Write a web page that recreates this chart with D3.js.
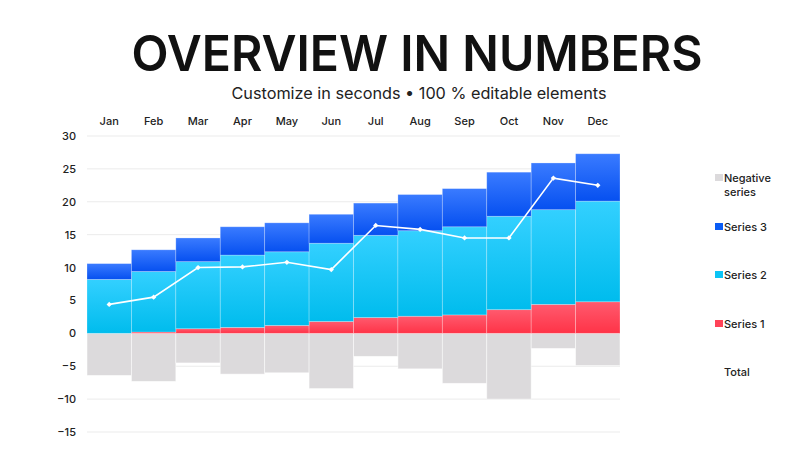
<!DOCTYPE html>
<html>
<head>
<meta charset="utf-8">
<script src="https://cdn.jsdelivr.net/npm/d3@7"></script>
<style>
  body { margin: 0; background: #fff; }
  text { font-family: Inter, "Noto Sans", sans-serif; }
</style>
</head>
<body>
<div id="chart"></div>
<script>
// data
const months   = ["Jan","Feb","Mar","Apr","May","Jun","Jul","Aug","Sep","Oct","Nov","Dec"];
const series1  = [0.0, 0.2, 0.7, 0.9, 1.2, 1.8, 2.4, 2.6, 2.8, 3.6, 4.4, 4.8];
const series2  = [8.2, 9.2, 10.2, 11.0, 11.2, 11.9, 12.5, 13.0, 13.4, 14.2, 14.4, 15.3];
const series3  = [2.4, 3.3, 3.6, 4.3, 4.4, 4.4, 4.9, 5.5, 5.8, 6.7, 7.1, 7.2];
const negative = [-6.4, -7.3, -4.5, -6.2, -6.0, -8.4, -3.5, -5.4, -7.6, -10.0, -2.3, -4.9];
const total    = [4.4, 5.5, 10.0, 10.1, 10.8, 9.7, 16.4, 15.8, 14.5, 14.5, 23.6, 22.5];
const yTicks   = [30, 25, 20, 15, 10, 5, 0, -5, -10, -15];
const legendItems = ["Negative series", "Series 3", "Series 2", "Series 1", "Total"];

const W = 800, H = 450;
const margin = { top: 136, right: 180, bottom: 18, left: 87 };
const width  = W - margin.left - margin.right;
const height = H - margin.top - margin.bottom;

const svg = d3.select("#chart").append("svg")
  .attr("width", W).attr("height", H);

// Title + subtitle
svg.append("text")
  .attr("x", 417).attr("y", 71)
  .attr("text-anchor", "middle")
  .attr("font-size", 50).attr("font-weight", 600)
  .attr("fill", "#111")
  .attr("textLength", 571).attr("lengthAdjust", "spacingAndGlyphs")
  .text("OVERVIEW IN NUMBERS");

svg.append("text")
  .attr("x", 419).attr("y", 99)
  .attr("text-anchor", "middle")
  .attr("font-size", 16).attr("font-weight", 400).attr("fill", "#222")
  .attr("textLength", 375).attr("lengthAdjust", "spacingAndGlyphs")
  .text("Customize in seconds \u2022 100 % editable elements");

// gradients
const defs = svg.append("defs");
function grad(id, top, bottom) {
  const g = defs.append("linearGradient").attr("id", id)
    .attr("x1", 0).attr("y1", 0).attr("x2", 0).attr("y2", 1);
  g.append("stop").attr("offset", "0%").attr("stop-color", top);
  g.append("stop").attr("offset", "100%").attr("stop-color", bottom);
}
grad("g1", "#ff5a6e", "#ff3347");
grad("g2", "#33d0ff", "#00bced");
grad("g3", "#3a7bff", "#0650f0");

const g = svg.append("g").attr("transform", `translate(${margin.left},${margin.top})`);

const x = d3.scaleBand().domain(months).range([0, width]).padding(0);
const y = d3.scaleLinear().domain([-15, 30]).range([height, 0]);

// gridlines
g.append("g").selectAll("line").data(yTicks).join("line")
  .attr("x1", 0).attr("x2", width)
  .attr("y1", d => y(d)).attr("y2", d => y(d))
  .attr("stroke", "#ebebeb").attr("stroke-width", 1);

// y axis labels
const yAxis = d3.axisLeft(y).tickValues(yTicks).tickSize(0).tickPadding(11);
g.append("g").call(yAxis)
  .call(s => s.select(".domain").remove())
  .selectAll("text")
  .attr("font-size", 11).attr("font-weight", 500).attr("fill", "#222");

// month labels on top
const xAxis = d3.axisTop(x).tickSize(0).tickPadding(11);
g.append("g").call(xAxis)
  .call(s => s.select(".domain").remove())
  .selectAll("text")
  .attr("font-size", 11).attr("font-weight", 500).attr("fill", "#222");

// stacked data
const rows = months.map((m, i) => ({ month: m, s1: series1[i], s2: series2[i], s3: series3[i] }));
const stack = d3.stack().keys(["s1", "s2", "s3"])(rows);
const fills = { s1: "url(#g1)", s2: "url(#g2)", s3: "url(#g3)" };

// negative bars
g.append("g").selectAll("rect").data(negative).join("rect")
  .attr("x", (d, i) => x(months[i]))
  .attr("y", y(0))
  .attr("width", x.bandwidth())
  .attr("height", d => y(d) - y(0))
  .attr("fill", "#dcdadc")
  .attr("stroke", "rgba(255,255,255,0.6)").attr("stroke-width", 0.8);

stack.forEach(layer => {
  g.append("g").selectAll("rect").data(layer).join("rect")
    .attr("x", d => x(d.data.month))
    .attr("y", d => y(d[1]))
    .attr("width", x.bandwidth())
    .attr("height", d => y(d[0]) - y(d[1]))
    .attr("fill", fills[layer.key])
    .attr("stroke", "rgba(255,255,255,0.3)").attr("stroke-width", 0.8);
});

// total line
const line = d3.line()
  .x((d, i) => x(months[i]) + x.bandwidth() / 2)
  .y(d => y(d));
g.append("path").datum(total)
  .attr("d", line)
  .attr("fill", "none").attr("stroke", "#fff").attr("stroke-width", 1.6);
g.append("g").selectAll("path").data(total).join("path")
  .attr("transform", (d, i) => `translate(${x(months[i]) + x.bandwidth() / 2},${y(d)}) rotate(45)`)
  .attr("d", d3.symbol().type(d3.symbolSquare).size(14))
  .attr("fill", "#fff");

// legend
const legColors = ["#dcdadc", "#0a5cf5", "#0cc4f5", "#ff4358", null];
const legY = [178, 227, 275, 324, 372];
const leg = svg.append("g");
legendItems.forEach((name, i) => {
  if (legColors[i]) {
    leg.append("rect")
      .attr("x", 715).attr("y", legY[i] - 4)
      .attr("width", 8).attr("height", 7)
      .attr("fill", legColors[i]);
  }
  const t = leg.append("text")
    .attr("x", 724).attr("y", legY[i] + 4)
    .attr("font-size", 11).attr("font-weight", 500).attr("fill", "#222");
  if (name === "Negative series") {
    t.append("tspan").attr("x", 724).text("Negative");
    t.append("tspan").attr("x", 724).attr("dy", 14).text("series");
  } else {
    t.text(name);
  }
});
</script>
</body>
</html>
